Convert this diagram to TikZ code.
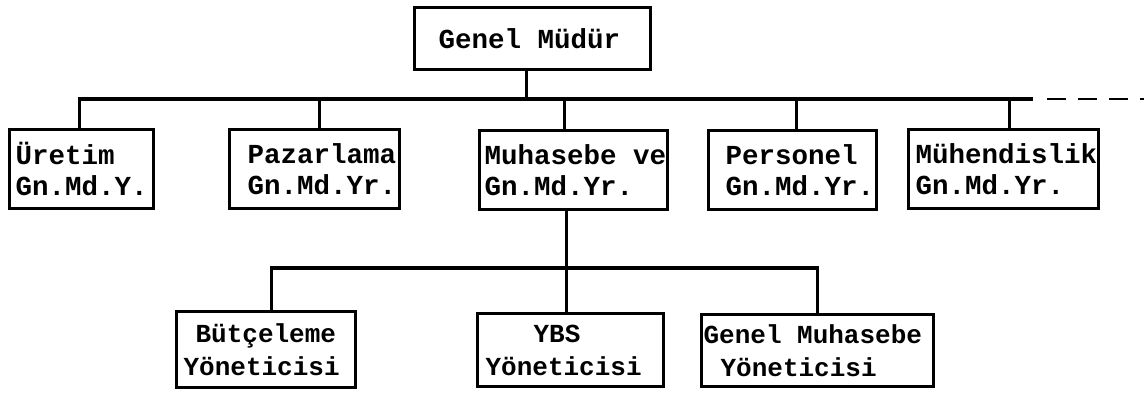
\documentclass[tikz,border=0pt]{standalone}
\usepackage{fontspec}
\newfontfamily\twfont{Liberation Mono}
\newcommand\wgap{\hspace*{0.6em}}
\tikzset{
  orgbox/.style={draw, line width=3.2pt, anchor=north west, inner xsep=0pt, inner ysep=0pt,
    align=left, font=\twfont\bfseries\fontsize{27.5}{31}\selectfont},
  lowbox/.style={orgbox, font=\twfont\bfseries\fontsize{26}{33}\selectfont},
  conn/.style={line width=3.2pt}
}
\begin{document}
\begin{tikzpicture}[x=1pt,y=-1pt]
\useasboundingbox (0,0) rectangle (1144,392);
% top
\node[orgbox, minimum width=236pt, minimum height=62pt, text width=236pt] (gm) at (413,6) {\hspace*{24pt}Genel\wgap Müdür};
% level 1
\node[orgbox, minimum width=144pt, minimum height=79pt, text width=144pt] (uret) at (8,128) {\hspace*{6pt}Üretim\\\hspace*{6pt}Gn.Md.Y.};
\node[orgbox, minimum width=170pt, minimum height=79pt, text width=170pt] (paz) at (228,128) {\hspace*{18pt}Pazarlama\\\hspace*{18pt}Gn.Md.Yr.};
\node[orgbox, minimum width=188pt, minimum height=79pt, text width=188pt] (muh) at (478,129) {\hspace*{5pt}Muhasebe\wgap ve\\\hspace*{5pt}Gn.Md.Yr.};
\node[orgbox, minimum width=168pt, minimum height=79pt, text width=168pt] (per) at (707,129) {\hspace*{17pt}Personel\\\hspace*{17pt}Gn.Md.Yr.};
\node[orgbox, minimum width=190pt, minimum height=79pt, text width=190pt] (muhen) at (907,128) {\hspace*{7pt}Mühendislik\\\hspace*{7pt}Gn.Md.Yr.};
% level 2
\node[lowbox, minimum width=179pt, minimum height=76pt, text width=179pt] (but) at (175,310) {\hspace*{19pt}Bütçeleme\\\hspace*{7pt}Yöneticisi};
\node[lowbox, minimum width=186pt, minimum height=73pt, text width=186pt] (ybs) at (476,312) {\hspace*{56pt}YBS\\\hspace*{8pt}Yöneticisi};
\node[lowbox, minimum width=232pt, minimum height=72pt, text width=232pt] (gmh) at (700,313) {\hspace*{2pt}Genel\wgap Muhasebe\\\hspace*{19pt}Yöneticisi};
% connector points
\coordinate (busY) at (0,99);
\coordinate (busEnd) at (1033,99);
\coordinate (dashStart) at (1047,99);
\coordinate (dashEnd) at (1144,99);
\coordinate (gmBot) at ([xshift=-6pt]gm.south);
\coordinate (uretTop) at ([xshift=-2pt]uret.north);
\coordinate (pazTop) at ([xshift=5pt]paz.north);
\coordinate (muhTop) at ([xshift=-9pt]muh.north);
\coordinate (perTop) at ([xshift=4pt]per.north);
\coordinate (muhenTop) at ([xshift=6pt]muhen.north);
\coordinate (muhBot) at ([xshift=-7pt]muh.south);
\coordinate (subY) at (0,268);
\coordinate (butTop) at ([xshift=5.5pt]but.north);
% connectors
\draw[conn] (gmBot) -- (gmBot |- busY);
\draw[conn] (uretTop) |- (busEnd);
\draw[conn, line width=2.6pt, dash pattern=on 19pt off 12pt] (dashStart) -- (dashEnd);
\draw[conn] (pazTop) -- (pazTop |- busY);
\draw[conn] (muhTop) -- (muhTop |- busY);
\draw[conn] (perTop) -- (perTop |- busY);
\draw[conn] (muhenTop) -- (muhenTop |- busY);
\draw[conn] (muhBot) -- (muhBot |- ybs.north);
\draw[conn] (butTop) |- (subY -| gmh.north) -- (gmh.north);
\end{tikzpicture}
\end{document}
